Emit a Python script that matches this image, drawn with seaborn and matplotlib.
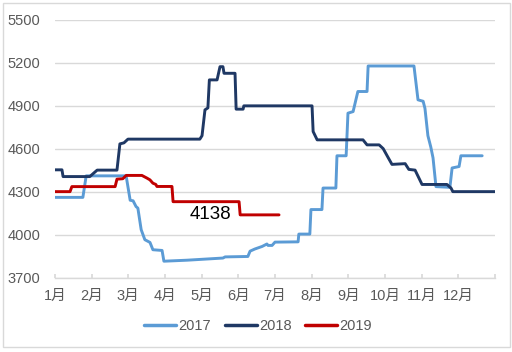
import matplotlib
matplotlib.use("Agg")
import matplotlib.pyplot as plt
import seaborn as sns
import pandas as pd
from matplotlib.patches import Rectangle

# ---- data (x = month position, 0 = start of Jan, 12 = end of Dec) ----
x2017 = [0.00, 0.76, 0.85, 1.94, 2.05, 2.13, 2.21, 2.26, 2.35, 2.45, 2.59, 2.67, 2.92, 2.97,
         3.60, 4.58, 4.64, 5.26, 5.32, 5.45, 5.65, 5.78, 5.81, 5.92, 6.00, 6.63, 6.65, 6.95,
         6.98, 7.28, 7.31, 7.66, 7.69, 7.94, 7.99, 8.13, 8.26, 8.51, 8.54, 9.79, 9.90, 10.04,
         10.09, 10.17, 10.25, 10.31, 10.39, 10.77, 10.83, 11.02, 11.07, 11.65]
y2017 = [4260, 4260, 4410, 4410, 4240, 4236, 4196, 4185, 4035, 3965, 3946, 3895, 3890, 3815,
         3822, 3837, 3845, 3848, 3885, 3900, 3918, 3935, 3925, 3925, 3948, 3950, 4004, 4004,
         4175, 4175, 4325, 4325, 4550, 4550, 4847, 4858, 4998, 4998, 5176, 5176, 4940, 4930,
         4880, 4690, 4610, 4535, 4335, 4330, 4465, 4475, 4550, 4550]

x2018 = [0.00, 0.19, 0.22, 0.95, 1.06, 1.15, 1.69, 1.77, 1.88, 1.99, 3.95, 4.01, 4.09, 4.17,
         4.21, 4.42, 4.50, 4.58, 4.61, 4.91, 4.94, 5.13, 5.15, 7.01, 7.04, 7.15, 8.40, 8.51,
         8.84, 8.95, 9.08, 9.19, 9.55, 9.65, 9.82, 10.01, 10.69, 10.80, 10.85, 12.00]
y2018 = [4452, 4452, 4405, 4405, 4430, 4450, 4450, 4633, 4640, 4666, 4666, 4690, 4870, 4884,
         5079, 5079, 5171, 5171, 5125, 5125, 4875, 4875, 4898, 4898, 4719, 4661, 4661, 4626,
         4626, 4600, 4540, 4490, 4495, 4455, 4450, 4350, 4350, 4325, 4300, 4300]

x2019 = [0.00, 0.41, 0.46, 1.64, 1.69, 1.85, 1.94, 2.37, 2.51, 2.59, 2.67, 2.75, 2.78, 3.19,
         3.22, 5.02, 5.05, 6.11]
y2019 = [4300, 4300, 4335, 4335, 4387, 4390, 4413, 4413, 4394, 4382, 4359, 4350, 4336, 4336,
         4230, 4230, 4138, 4138]

years = ["2017", "2018", "2019"]
colors = ["#5B9BD5", "#1F3864", "#C00000"]
month_labels = ["1月", "2月", "3月", "4月", "5月", "6月", "7月", "8月", "9月", "10月", "11月", "12月", ""]
y_ticks = [3700, 4000, 4300, 4600, 4900, 5200, 5500]
annot_text = "4138"
annot_x, annot_y = 4.25, 4139

frames = []
for yr, xs, ys in zip(years, [x2017, x2018, x2019], [y2017, y2018, y2019]):
    frames.append(pd.DataFrame({"x": xs, "y": ys, "year": yr}))
df = pd.concat(frames, ignore_index=True)

sns.set_theme(style="white")
plt.rcParams["font.family"] = ["Liberation Sans", "Noto Sans CJK SC", "DejaVu Sans"]

fig = plt.figure(figsize=(5.12, 3.52), dpi=100)
ax = fig.add_axes([55 / 512, 1 - 277.7 / 352, 440 / 512, (277.7 - 19.5) / 352])

sns.lineplot(data=df, x="x", y="y", hue="year", palette=dict(zip(years, colors)),
             sort=False, estimator=None, linewidth=2.1, ax=ax, legend=True)

ax.set_xlim(0, 12)
ax.set_ylim(3700, 5500)
ax.set_xticks(range(13))
ax.set_xticklabels(month_labels)
ax.set_yticks(y_ticks)
ax.set_xlabel("")
ax.set_ylabel("")
ax.grid(axis="y", color="#D9D9D9", linewidth=1)
ax.grid(axis="x", visible=False)
for s in ["left", "right", "top"]:
    ax.spines[s].set_visible(False)
ax.spines["bottom"].set_color("#D9D9D9")
ax.spines["bottom"].set_linewidth(1)
ax.tick_params(axis="x", direction="in", length=3, color="#D9D9D9", bottom=True,
               labelsize=10.5, labelcolor="#595959", pad=8)
ax.tick_params(axis="y", length=0, labelsize=10.5, labelcolor="#595959", pad=10.8)

ax.text(annot_x, annot_y, annot_text, fontsize=13.5, color="black", ha="center", va="center")

handles, labels = ax.get_legend_handles_labels()
ax.legend_.remove()
leg = fig.legend(handles, labels, loc="center", bbox_to_anchor=(258 / 512, 1 - 325.7 / 352),
                 ncol=3, frameon=False, fontsize=10.5, handlelength=2.2, handletextpad=0.15,
                 columnspacing=0.95, labelcolor="#595959")
for lh in leg.get_lines():
    lh.set_linewidth(2.5)

fig.patches.append(Rectangle((2.5 / 512, 1 - 347 / 352), 507.5 / 512, 344.5 / 352,
                             transform=fig.transFigure, fill=False, edgecolor="#D9D9D9",
                             linewidth=1))

fig.savefig("out.png", dpi=100)
